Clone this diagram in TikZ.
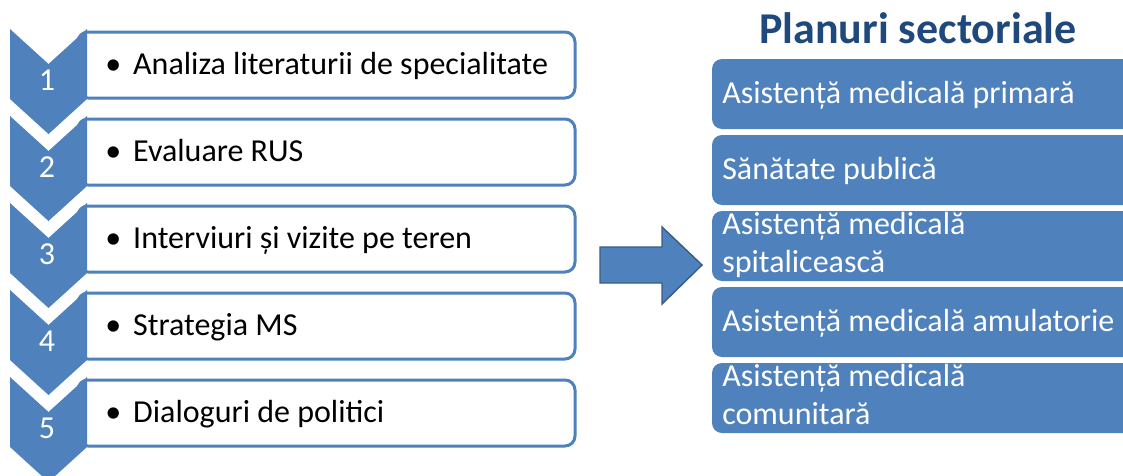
\documentclass[tikz,border=0pt]{standalone}
\usepackage{fontspec}
\setmainfont{Carlito}
\definecolor{accent}{HTML}{4F81BD}
\definecolor{accentdark}{HTML}{385D8A}
\definecolor{titleblue}{HTML}{1F497D}
\tikzset{
  stepchev/.style={fill=accent},
  listbox/.style={draw=accent, line width=2.25pt, fill=white, rounded corners=7.5pt},
  numtxt/.style={text=white, font=\fontsize{24}{28}\selectfont, inner sep=0pt, anchor=base},
  itemtxt/.style={font=\fontsize{24}{28}\selectfont, inner sep=0pt, anchor=base west},
  sectbox/.style={fill=accent, rounded corners=7.5pt},
  secttxt/.style={text=white, inner sep=0pt, anchor=base west, font=\fontsize{24}{28.5}\selectfont},
  bigarrow/.style={fill=accent, draw=accentdark, line width=1.1pt, line join=miter},
  titletxt/.style={text=titleblue, inner sep=0pt, anchor=base, font=\bfseries\fontsize{33}{38}\selectfont}
}
\begin{document}
\begin{tikzpicture}[x=0.75pt,y=-0.75pt]
\useasboundingbox (0,0) rectangle (1123,475);
\clip (0,0) rectangle (1123,475);
\fill[white] (0,0) rectangle (1123,475);
% left list
\foreach \i/\n/\t in {0/1/{Analiza literaturii de specialitate},1/2/{Evaluare RUS},2/3/{Interviuri și vizite pe teren},3/4/{Strategia MS},4/5/{Dialoguri de politici}}{
  \pgfmathsetmacro\T{29+87*\i}
  \draw[listbox] (78,\T+3) rectangle (575,\T+69);
  \fill[stepchev] (10,\T) -- (48.5,\T+35) -- (87,\T) -- (87,\T+70) -- (48.5,\T+105) -- (10,\T+70) -- cycle;
  \node[numtxt] (num\n) at (47,\T+61) {\n};
  \node[itemtxt] (item\n) at (105,\T+45) {\textbullet\hspace{9pt}\t};
}
% arrow
\draw[bigarrow] (600,247) -- (662,247) -- (662,227) -- (702,265) -- (662,304) -- (662,283) -- (600,283) -- cycle;
% right
\node[titletxt] (title) at (918,43) {Planuri sectoriale};
\foreach \i in {0,...,4}{
  \pgfmathsetmacro\T{59+76*\i}
  \fill[sectbox] (712,\T) rectangle (1145,\T+70);
}
\node[secttxt] (s1) at (722,59+44) {Asistență medicală primară};
\node[secttxt] (s2) at (722,135+44) {Sănătate publică};
\node[secttxt] (s3) at (722,211+23) {Asistență medicală};
\node[secttxt] (s3b) at (722,211+61) {spitalicească};
\node[secttxt] (s4) at (722,287+44) {Asistență medicală amulatorie};
\node[secttxt] (s5) at (722,363+23) {Asistență medicală};
\node[secttxt] (s5b) at (722,363+61) {comunitară};
\end{tikzpicture}
\end{document}
